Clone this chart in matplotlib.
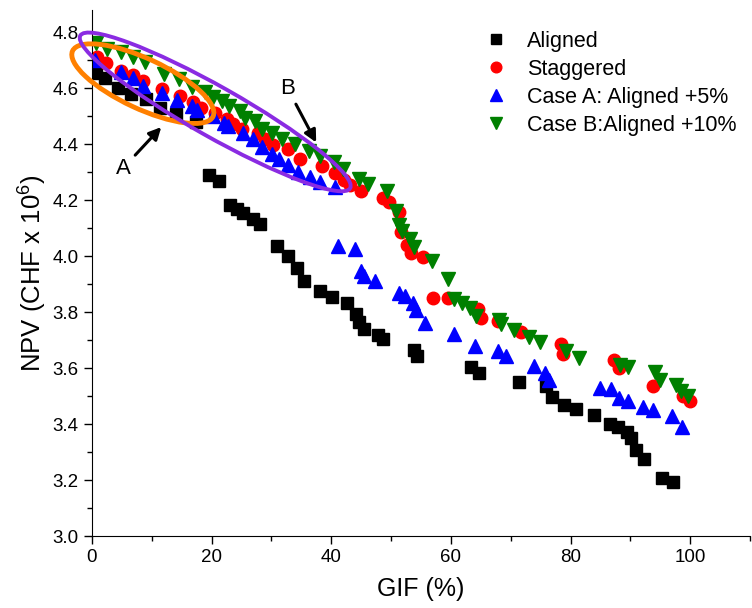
import matplotlib
matplotlib.use("Agg")
import matplotlib.pyplot as plt
from matplotlib.patches import Ellipse
from matplotlib.transforms import ScaledTranslation

plt.rcParams['font.family'] = ['Liberation Sans', 'DejaVu Sans']
plt.rcParams['mathtext.fontset'] = 'custom'
plt.rcParams['mathtext.rm'] = 'Liberation Sans'

# data (GIF %, NPV in CHF x 1e6)
aligned_x = [0.75, 2.2, 4.4, 6.5, 9.1, 11.4, 14.1, 17.4, 19.6, 21.3, 23.0, 24.3,
             25.3, 27.0, 28.1, 31.0, 32.7, 34.2, 35.5, 38.2, 40.2, 42.7, 44.2,
             44.7, 45.4, 47.9, 48.7, 53.8, 54.4, 63.3, 64.7, 71.4, 75.9, 76.9,
             78.9, 80.9, 83.9, 86.6, 87.9, 89.5, 90.1, 91.0, 92.3, 95.3, 97.2]
aligned_y = [4.656, 4.637, 4.602, 4.579, 4.561, 4.531, 4.509, 4.480, 4.290,
             4.268, 4.182, 4.168, 4.153, 4.135, 4.114, 4.035, 4.002, 3.959,
             3.912, 3.877, 3.855, 3.833, 3.794, 3.765, 3.740, 3.718, 3.704,
             3.665, 3.643, 3.603, 3.582, 3.550, 3.535, 3.496, 3.467, 3.453,
             3.431, 3.402, 3.391, 3.373, 3.352, 3.309, 3.276, 3.208, 3.194]

stag_x = [0.8, 2.3, 4.8, 6.9, 8.5, 11.7, 14.7, 16.9, 18.3, 20.6, 22.6, 23.6,
          25.1, 27.8, 29.0, 30.3, 32.7, 34.7, 38.5, 40.7, 42.1, 43.2, 45.0,
          48.6, 49.7, 51.4, 51.7, 52.6, 53.4, 55.3, 57.0, 59.5, 64.5, 65.1,
          67.8, 71.7, 78.4, 78.7, 87.3, 88.1, 93.8, 98.8, 100.0]
stag_y = [4.713, 4.691, 4.662, 4.648, 4.627, 4.598, 4.573, 4.551, 4.530,
          4.512, 4.490, 4.472, 4.454, 4.440, 4.418, 4.396, 4.382, 4.346,
          4.324, 4.296, 4.274, 4.253, 4.235, 4.210, 4.195, 4.160, 4.086,
          4.040, 4.011, 3.997, 3.852, 3.852, 3.812, 3.780, 3.769, 3.728,
          3.685, 3.652, 3.630, 3.601, 3.538, 3.502, 3.481]

caseA_x = [0.5, 4.9, 6.9, 8.5, 11.7, 14.2, 16.8, 17.6, 20.3, 22.0, 22.8,
           25.3, 27.0, 28.5, 30.1, 31.2, 32.8, 34.5, 36.5, 38.2, 40.7, 41.2,
           43.9, 44.9, 45.4, 47.3, 51.3, 52.4, 53.6, 54.1, 55.6, 60.6, 64.1,
           67.8, 69.2, 73.9, 75.7, 76.4, 84.9, 86.8, 88.1, 89.6, 92.1, 93.8,
           97.0, 98.7]
caseA_y = [4.702, 4.659, 4.638, 4.609, 4.584, 4.559, 4.537, 4.523, 4.501,
           4.476, 4.465, 4.440, 4.419, 4.390, 4.364, 4.346, 4.328, 4.303,
           4.285, 4.264, 4.246, 4.038, 4.027, 3.948, 3.930, 3.912, 3.868,
           3.857, 3.832, 3.809, 3.762, 3.721, 3.678, 3.660, 3.642, 3.606,
           3.581, 3.558, 3.530, 3.527, 3.495, 3.484, 3.460, 3.452, 3.428,
           3.388]

caseB_x = [0.7, 2.5, 4.9, 6.9, 8.9, 12.0, 14.6, 16.8, 18.9, 20.3, 21.8,
           22.9, 24.8, 25.6, 27.3, 28.5, 30.1, 31.8, 34.0, 36.2, 38.2, 40.4,
           42.0, 44.6, 46.2, 49.4, 50.8, 51.3, 51.9, 53.1, 53.8, 56.9, 59.5,
           60.6, 61.9, 63.2, 64.2, 68.0, 68.3, 70.5, 73.0, 74.9, 79.2, 81.4,
           88.3, 89.6, 94.1, 95.0, 97.7, 98.4, 99.7]
caseB_y = [4.763, 4.741, 4.729, 4.711, 4.696, 4.652, 4.634, 4.605, 4.587,
           4.570, 4.555, 4.537, 4.519, 4.496, 4.485, 4.456, 4.440, 4.418,
           4.400, 4.375, 4.357, 4.336, 4.311, 4.275, 4.257, 4.235, 4.163,
           4.110, 4.092, 4.063, 4.034, 3.984, 3.919, 3.847, 3.833, 3.815,
           3.786, 3.772, 3.758, 3.736, 3.711, 3.693, 3.660, 3.635, 3.613,
           3.603, 3.585, 3.556, 3.539, 3.520, 3.499]

fig = plt.figure(figsize=(7.52, 6.08), dpi=100)
ax = fig.add_axes([0.1223, 0.1184, 0.8750, 0.8650])

ax.plot(aligned_x, aligned_y, 's', color='black', ms=8, label='Aligned')
ax.plot(stag_x, stag_y, 'o', color='red', ms=9, label='Staggered')
ax.plot(caseA_x, caseA_y, '^', color='blue', ms=10, label='Case A: Aligned +5%')
ax.plot(caseB_x, caseB_y, 'v', color='green', ms=10, label='Case B:Aligned +10%')

ax.set_xlim(0, 110)
ax.set_ylim(3.0, 4.88)
ax.set_xticks([0, 20, 40, 60, 80, 100])
ax.set_xticks([10, 30, 50, 70, 90, 110], minor=True)
ax.set_yticks([3.0, 3.2, 3.4, 3.6, 3.8, 4.0, 4.2, 4.4, 4.6, 4.8])
ax.set_yticks([3.1, 3.3, 3.5, 3.7, 3.9, 4.1, 4.3, 4.5, 4.7], minor=True)
ax.yaxis.set_major_formatter(matplotlib.ticker.FormatStrFormatter('%.1f'))
ax.spines['top'].set_visible(False)
ax.spines['right'].set_visible(False)
ax.tick_params(which='major', direction='out', length=6, width=1, labelsize=13.5)
ax.tick_params(which='minor', direction='out', length=3.5, width=1)

ax.set_xlabel('GIF (%)', fontsize=18, labelpad=8)
ax.set_ylabel('NPV (CHF x 10$^{6}$)', fontsize=18.5, labelpad=3)

# highlight ellipses (size in inches, centred on a data point)
def ring(cx, cy, w, h, ang, color, lw):
    tr = fig.dpi_scale_trans + ScaledTranslation(cx, cy, ax.transData)
    e = Ellipse((0, 0), w, h, angle=ang, transform=tr, fill=False,
                edgecolor=color, lw=lw, clip_on=False, zorder=5)
    ax.add_patch(e)

ring(8.5, 4.617, 1.55, 0.50, -25, '#FF8000', 3.5)
ring(20.6, 4.516, 3.10, 0.50, -29.5, '#8A2BE2', 2.8)

arrow = dict(arrowstyle='-|>', color='black', lw=2.2, mutation_scale=18)
ax.annotate('A', xy=(11.9, 4.469), xytext=(5.2, 4.315), fontsize=16,
            ha='center', va='center', arrowprops=arrow)
ax.annotate('B', xy=(37.7, 4.398), xytext=(32.7, 4.60), fontsize=16,
            ha='center', va='center', arrowprops=arrow)

ax.legend(loc='upper left', bbox_to_anchor=(0.555, 0.993), frameon=False,
          fontsize=15.5, handletextpad=0.45, labelspacing=0.32, markerscale=0.85,
          borderpad=0.3)

fig.savefig('out.png', dpi=100)
